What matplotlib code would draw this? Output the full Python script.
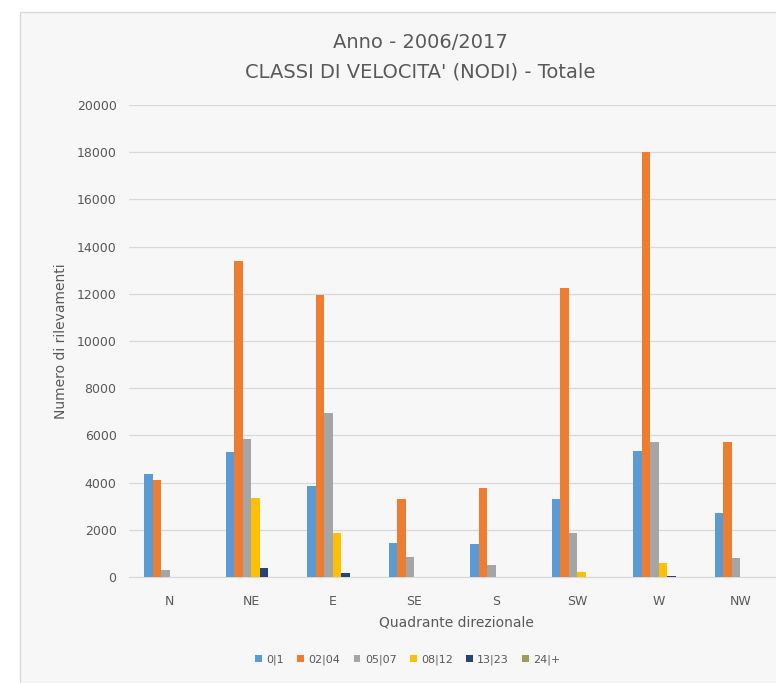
import numpy as np
import matplotlib.pyplot as plt
from matplotlib.patches import Rectangle

# wind direction quadrants and speed classes (knots)
quadranti = ['N', 'NE', 'E', 'SE', 'S', 'SW', 'W', 'NW']
classi = ['0|1', '02|04', '05|07', '08|12', '13|23', '24|+']

c_0_1 = [4380, 5280, 3870, 1450, 1400, 3320, 5320, 2720]
c_02_04 = [4130, 13400, 11950, 3320, 3790, 12250, 18000, 5730]
c_05_07 = [300, 5830, 6950, 850, 510, 1870, 5700, 810]
c_08_12 = [20, 3360, 1870, 20, 20, 200, 600, 20]
c_13_23 = [0, 380, 150, 0, 0, 10, 30, 0]
c_24_piu = [0, 0, 0, 0, 0, 0, 0, 0]
serie = [c_0_1, c_02_04, c_05_07, c_08_12, c_13_23, c_24_piu]

colori = ['#5B9BD5', '#ED7D31', '#A5A5A5', '#FFC000', '#264478', '#9E9E5A']

W, H = 776, 683
fig = plt.figure(figsize=(W/100, H/100), dpi=100, facecolor='white')

# chart area background (cut on the right/bottom like the screenshot)
fig.patches.append(Rectangle((20/W, 0), 1.2, 1-12/H, transform=fig.transFigure,
                             facecolor='#f7f7f7', edgecolor='#d9d9d9', lw=1, zorder=-10))

ax = fig.add_axes([129/W, 1-577/H, 652/W, 472/H])
ax.set_facecolor('none')

x = np.arange(len(quadranti))
w = 0.105
for i, (vals, col, lab) in enumerate(zip(serie, colori, classi)):
    ax.bar(x + (i-2.5)*w, vals, width=w, color=col, label=lab, zorder=3)

ax.set_xlim(-0.5, len(quadranti)-0.5)
ax.set_ylim(0, 20000)
ax.set_yticks(np.arange(0, 20001, 2000))
ax.set_xticks(x)
ax.set_xticklabels(quadranti)
ax.grid(axis='y', color='#d9d9d9', lw=0.9, zorder=0)
for s in ['top', 'right', 'left']:
    ax.spines[s].set_visible(False)
ax.spines['bottom'].set_color('#d9d9d9')
ax.tick_params(axis='both', length=0, colors='#595959', labelsize=9)
ax.tick_params(axis='x', pad=13)
ax.tick_params(axis='y', pad=9)

ax.set_ylabel('Numero di rilevamenti', fontsize=10, color='#595959', labelpad=6)
fig.text(456/W, 1-622/H, 'Quadrante direzionale', ha='center', va='center',
         fontsize=10, color='#595959')

fig.text(420/W, 1-43/H, 'Anno - 2006/2017', ha='center', va='center',
         fontsize=14, color='#595959')
fig.text(420/W, 1-72/H, "CLASSI DI VELOCITA' (NODI) - Totale", ha='center', va='center',
         fontsize=14, color='#595959')

fig.legend(loc='center', bbox_to_anchor=(408/W, 1-660/H), ncol=6, frameon=False,
           fontsize=8, handlelength=0.6, handleheight=0.6, columnspacing=1.2,
           handletextpad=0.4, labelcolor='#595959')

fig.savefig('out.png', dpi=100, facecolor='white')
